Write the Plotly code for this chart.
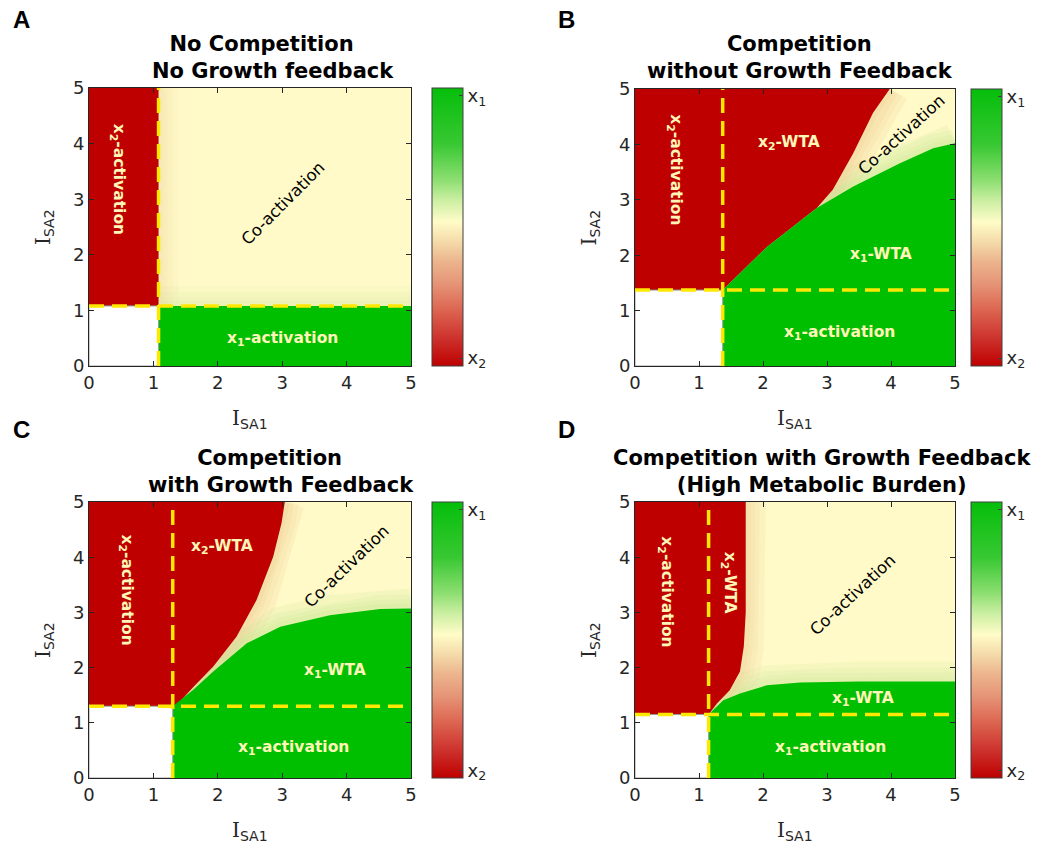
import plotly.graph_objects as go

W, H = 1046, 853

# ---------------- data ----------------
panel_letters = ["A", "B", "C", "D"]
titles = [
    "No Competition<br>   No Growth feedback",
    "Competition<br>without Growth Feedback",
    "Competition<br>   with Growth Feedback",
    "Competition with Growth Feedback<br>(High Metabolic Burden)",
]
thresholds = [1.08, 1.37, 1.30, 1.15]
axis_ticks = [0, 1, 2, 3, 4, 5]

# boundary of the x2-dominant (red) region, from the corner up to the top edge
A_red_x = [1.08, 1.08]
A_red_y = [1.08, 5.0]
B_red_x = [1.37, 2.06, 2.84, 3.09, 3.41, 3.72, 3.98]
B_red_y = [1.37, 2.15, 2.85, 3.18, 3.84, 4.57, 5.0]
C_red_x = [1.30, 1.36, 1.62, 1.93, 2.29, 2.60, 2.86, 2.99, 3.04]
C_red_y = [1.30, 1.32, 1.65, 2.02, 2.56, 3.22, 4.01, 4.62, 5.0]
D_red_x = [1.15, 1.28, 1.48, 1.64, 1.70, 1.73, 1.73]
D_red_y = [1.15, 1.35, 1.59, 1.93, 2.38, 3.00, 5.0]

# boundary of the x1-dominant (green) region, from the corner to the right edge
A_green_x = [1.08, 5.0]
A_green_y = [1.08, 1.08]
B_green_x = [1.37, 2.06, 2.84, 3.41, 4.14, 4.66, 5.0]
B_green_y = [1.37, 2.15, 2.85, 3.24, 3.66, 3.93, 4.02]
C_green_x = [1.30, 1.62, 1.93, 2.45, 2.97, 3.74, 4.52, 5.0]
C_green_y = [1.30, 1.60, 1.93, 2.44, 2.74, 2.95, 3.06, 3.07]
D_green_x = [1.15, 1.38, 1.64, 2.06, 2.58, 3.50, 5.0]
D_green_y = [1.15, 1.41, 1.53, 1.68, 1.73, 1.75, 1.75]

red_edges = [(A_red_x, A_red_y), (B_red_x, B_red_y), (C_red_x, C_red_y), (D_red_x, D_red_y)]
green_edges = [(A_green_x, A_green_y), (B_green_x, B_green_y), (C_green_x, C_green_y), (D_green_x, D_green_y)]

# region labels: (text, x, y, angle, colour key)
A_labels = [("x<sub>2</sub>-activation", 0.45, 3.35, 90, "light"),
            ("Co-activation", 3.01, 2.93, -45, "dark"),
            ("x<sub>1</sub>-activation", 3.01, 0.49, 0, "light")]
B_labels = [("x<sub>2</sub>-activation", 0.62, 3.54, 90, "light"),
            ("x<sub>2</sub>-WTA", 2.40, 4.02, 0, "light"),
            ("Co-activation", 4.17, 4.17, -42, "dark"),
            ("x<sub>1</sub>-WTA", 3.85, 2.00, 0, "light"),
            ("x<sub>1</sub>-activation", 3.20, 0.59, 0, "light")]
C_labels = [("x<sub>2</sub>-activation", 0.58, 3.41, 90, "light"),
            ("x<sub>2</sub>-WTA", 2.06, 4.19, 0, "light"),
            ("Co-activation", 4.00, 3.83, -44, "dark"),
            ("x<sub>1</sub>-WTA", 3.82, 1.93, 0, "light"),
            ("x<sub>1</sub>-activation", 3.17, 0.54, 0, "light")]
D_labels = [("x<sub>2</sub>-activation", 0.47, 3.38, 90, "light"),
            ("x<sub>2</sub>-WTA", 1.46, 3.53, 90, "light"),
            ("Co-activation", 3.41, 3.32, -43, "dark"),
            ("x<sub>1</sub>-WTA", 3.57, 1.43, 0, "light"),
            ("x<sub>1</sub>-activation", 3.05, 0.54, 0, "light")]
all_labels = [A_labels, B_labels, C_labels, D_labels]

colorbar_values = [-1, 1]
colorbar_ticktext = ["x<sub>2</sub>", "x<sub>1</sub>"]

# ---------------- styles / layout ----------------
RED = "rgb(190,0,0)"
GREEN = "rgb(0,190,0)"
COACT = "rgb(255,250,200)"
YELLOW = "rgb(255,232,0)"
AXC = "#262626"
LABEL_LIGHT = "rgb(255,246,184)"
TAN = "rgba(236,196,140,0.16)"
LGREEN = "rgba(190,232,140,0.16)"
band_widths = [40, 28, 18, 10]
band_strength = [0.45, 1.0, 1.0, 0.8]

colorscale = [
    [0.00, "rgb(190,0,0)"], [0.10, "rgb(205,50,45)"], [0.20, "rgb(220,100,80)"],
    [0.30, "rgb(230,150,120)"], [0.38, "rgb(236,182,142)"], [0.45, "rgb(245,220,170)"],
    [0.52, "rgb(255,252,200)"], [0.60, "rgb(200,238,160)"], [0.67, "rgb(140,222,112)"],
    [0.80, "rgb(55,200,50)"], [1.00, "rgb(5,190,10)"],
]

# pixel boxes of the plot areas (left, right, top, bottom)
boxes = [(89, 411, 88, 366), (635, 955, 89, 366), (89, 411, 502, 778), (635, 955, 502, 778)]
cbar_left = [432, 971, 432, 971]
letter_pos = [(21, 19), (566, 19), (21, 429), (566, 429)]
title_pos = [(262, 57), (800, 57), (270, 471), (822, 471)]

def px_x(p):
    return p / W

def px_y(p):
    return 1 - p / H

fig = go.Figure()
layout = dict(width=W, height=H, margin=dict(l=0, r=0, t=0, b=0, autoexpand=False),
              paper_bgcolor="white", plot_bgcolor="white", showlegend=False,
              font=dict(family="DejaVu Sans", color=AXC))
annotations = []

for i in range(4):
    n = i + 1
    xa, ya = ("x" if n == 1 else f"x{n}"), ("y" if n == 1 else f"y{n}")
    L, R, T, B = boxes[i]
    thr = thresholds[i]
    rx, ry = red_edges[i]
    gx, gy = green_edges[i]
    s = band_strength[i]

    def poly(xs, ys, color, line=None):
        fig.add_trace(go.Scatter(x=xs, y=ys, fill="toself", fillcolor=color, mode="lines",
                                 line=line or dict(width=0, color=color),
                                 xaxis=xa, yaxis=ya, hoverinfo="skip", showlegend=False))

    def band(xs, ys, color, width):
        fig.add_trace(go.Scatter(x=xs, y=ys, mode="lines", opacity=s,
                                 line=dict(color=color, width=width),
                                 xaxis=xa, yaxis=ya, hoverinfo="skip", showlegend=False))

    # co-activation background
    poly([0, 5, 5, 0, 0], [0, 0, 5, 5, 0], COACT)
    # soft shading of the co-activation area next to the dominant regions
    for bw in band_widths:
        band(rx, ry, TAN, bw)
        band(gx, gy, LGREEN, bw)
    # x2 region
    poly([0, 0] + rx[::-1] + [0], [thr, 5] + ry[::-1] + [thr], RED)
    # x1 region
    poly([thr, 5] + gx[::-1] + [thr], [0, 0] + gy[::-1] + [0], GREEN)
    # no activation (white)
    poly([0, thr, thr, 0, 0], [0, 0, thr, thr, 0], "white", dict(width=1, color="#9a9a9a"))

    # dashed threshold lines
    fig.add_trace(go.Scatter(x=[thr, thr], y=[0, 5], mode="lines",
                             line=dict(color=YELLOW, width=3.5, dash="15px,8px"),
                             xaxis=xa, yaxis=ya, hoverinfo="skip", showlegend=False))
    fig.add_trace(go.Scatter(x=[0, 5], y=[thr, thr], mode="lines",
                             line=dict(color=YELLOW, width=3.5, dash="15px,8px"),
                             xaxis=xa, yaxis=ya, hoverinfo="skip", showlegend=False))

    # colorbar carrier (off-range point)
    fig.add_trace(go.Scatter(
        x=[-10, -10], y=[-10, -10], mode="markers", xaxis=xa, yaxis=ya,
        marker=dict(color=colorbar_values, colorscale=colorscale, cmin=-1.06, cmax=1.06,
                    showscale=True,
                    colorbar=dict(x=px_x(cbar_left[i]), xanchor="left", xpad=0, ypad=0,
                                  y=px_y((T + B) / 2), yanchor="middle",
                                  len=(B - T) / H, lenmode="fraction",
                                  thickness=31, thicknessmode="pixels",
                                  outlinewidth=1, outlinecolor="#404040",
                                  tickvals=colorbar_values, ticktext=colorbar_ticktext,
                                  ticks="inside", ticklen=4, tickcolor="#404040",
                                  tickfont=dict(size=18, color=AXC, family="DejaVu Sans"))),
        hoverinfo="skip", showlegend=False))

    axis_common = dict(range=[0, 5], tickvals=axis_ticks, ticks="inside", ticklen=5,
                       tickcolor=AXC, showline=True, linecolor=AXC, linewidth=1,
                       mirror="ticks", showgrid=False, zeroline=False,
                       tickfont=dict(size=18, color=AXC, family="DejaVu Sans"), fixedrange=True)
    layout[f"xaxis{n}"] = dict(axis_common, domain=[px_x(L), px_x(R)], anchor=ya)
    layout[f"yaxis{n}"] = dict(axis_common, domain=[px_y(B), px_y(T)], anchor=xa)

    # region labels
    for (txt, x, y, ang, ck) in all_labels[i]:
        if ck == "light":
            f = dict(family="DejaVu Sans", size=15.5, color=LABEL_LIGHT, weight="bold")
        else:
            f = dict(family="DejaVu Sans", size=16.5, color="black")
        annotations.append(dict(text=txt, x=x, y=y, xref=xa, yref=ya, showarrow=False,
                                textangle=ang, font=f, xanchor="center", yanchor="middle"))

    # panel letter
    annotations.append(dict(text=f"<b>{panel_letters[i]}</b>", x=px_x(letter_pos[i][0]),
                            y=px_y(letter_pos[i][1]), xref="paper", yref="paper", showarrow=False,
                            xanchor="center", yanchor="middle",
                            font=dict(family="Liberation Sans", size=24, color="black")))
    # title
    annotations.append(dict(text=f"<b>{titles[i]}</b>", x=px_x(title_pos[i][0]),
                            y=px_y(title_pos[i][1]), xref="paper", yref="paper", showarrow=False,
                            xanchor="center", yanchor="middle",
                            font=dict(family="DejaVu Sans", size=21, color="black")))
    # axis titles
    annotations.append(dict(text='<span style="font-family:DejaVu Serif">I</span><sub>SA1</sub>',
                            x=px_x((L + R) / 2), y=px_y(B + 53), xref="paper", yref="paper",
                            showarrow=False, xanchor="center", yanchor="middle",
                            font=dict(family="DejaVu Sans", size=20, color=AXC)))
    annotations.append(dict(text='<span style="font-family:DejaVu Serif">I</span><sub>SA2</sub>',
                            x=px_x(L - 45), y=px_y((T + B) / 2), xref="paper", yref="paper",
                            showarrow=False, xanchor="center", yanchor="middle", textangle=-90,
                            font=dict(family="DejaVu Sans", size=20, color=AXC)))

layout["annotations"] = annotations
fig.update_layout(**layout)
fig.write_html("out.html", config={"displayModeBar": False},
               post_script="document.body.style.margin='0';document.body.style.padding='0';")
